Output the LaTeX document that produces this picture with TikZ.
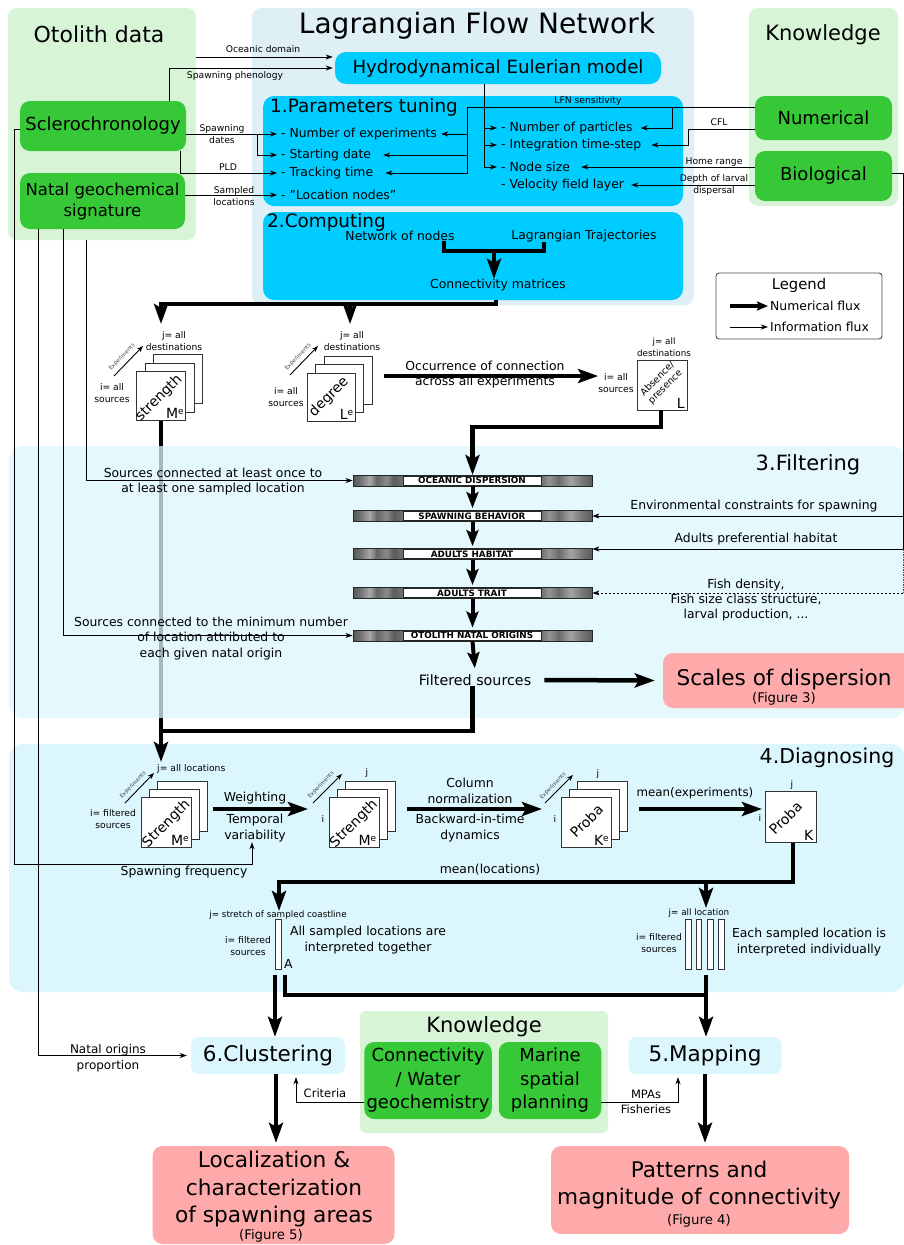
\documentclass[tikz,border=0pt]{standalone}
\usepackage{fontspec}
\setmainfont{DejaVu Sans}
\usetikzlibrary{arrows.meta}
\definecolor{pgreen}{RGB}{215,244,215}
\definecolor{plfn}{RGB}{222,240,246}
\definecolor{cyanb}{RGB}{0,204,255}
\definecolor{greenb}{RGB}{55,200,55}
\definecolor{lcyan}{RGB}{220,246,254}
\definecolor{pinkb}{RGB}{255,170,170}
\newcommand\fsz[2]{\fontsize{#1pt}{#2pt}\selectfont}
\newcommand\supe[1]{#1\raisebox{0.55ex}{\fsz{9}{9}e}}
\pgfdeclarehorizontalshading{fbnoise}{100bp}{color(0bp)=(black!62); color(25bp)=(black!66); color(26.5bp)=(black!56); color(28.5bp)=(black!34); color(30bp)=(black!60); color(32bp)=(black!46); color(33.5bp)=(black!64); color(35.5bp)=(black!55); color(50bp)=(black!50); color(64bp)=(black!60); color(66bp)=(black!42); color(68bp)=(black!58); color(70.5bp)=(black!36); color(73bp)=(black!54); color(75bp)=(black!64); color(100bp)=(black!62)}
\newcommand\mstack[5]{%
  \node[msq,minimum size=#5] (#1c) at (#2+2*#4,#3-2*#4) {};
  \node[msq,minimum size=#5] (#1b) at (#2+#4,#3-#4) {};
  \node[msq,minimum size=#5] (#1) at (#2,#3) {};}
\begin{document}
\begin{tikzpicture}[x=1pt,y=-1pt,
  every node/.style={inner sep=0pt, font=\fsz{12.4}{15}},
  panel/.style={rectangle, rounded corners=9pt},
  cbox/.style={rectangle, rounded corners=11pt, fill=cyanb},
  gbox/.style={rectangle, rounded corners=10pt, fill=greenb, align=center, font=\fsz{18}{21}},
  lbox/.style={rectangle, rounded corners=8pt, fill=lcyan, font=\fsz{21.5}{25}},
  pbox/.style={rectangle, rounded corners=10pt, fill=pinkb},
  figl/.style={font=\fsz{13.3}{15}},
  item/.style={anchor=west, inner xsep=4pt, inner ysep=1pt, font=\fsz{12.4}{15}},
  txt/.style={align=center, font=\fsz{12.4}{15.3}},
  sm/.style={align=center, font=\fsz{9.2}{12}},
  tiny/.style={font=\fsz{5.5}{6}, text=black!75},
  msq/.style={rectangle, draw=black!80, line width=0.9pt, fill=white},
  rot/.style={rotate=45, font=\fsz{14}{16}},
  corner/.style={anchor=south east, font=\fsz{14}{16}},
  fbar/.style={rectangle, draw=black!85, line width=0.8pt, shade, shading=fbnoise, minimum width=239, minimum height=11},
  fbl/.style={rectangle, draw=black!85, line width=0.7pt, fill=white, minimum width=138, minimum height=9, font=\bfseries\fsz{8.8}{9}},
  ln/.style={line width=0.9pt},
  info/.style={line width=0.9pt, -{Stealth[length=7pt,width=5pt,inset=2pt]}},
  numl/.style={line width=4.5pt},
  numa/.style={line width=4.5pt, -{Stealth[length=20pt,width=14pt,inset=4pt]}},
  fba/.style={line width=4pt, shorten >=2pt, -{Stealth[length=16pt,width=12pt,inset=3pt]}},
  expa/.style={line width=0.9pt, -{Stealth[length=6pt,width=4.5pt,inset=1.5pt]}},
]
\useasboundingbox (0,0) rectangle (904,1245);
\fill[white] (0,0) rectangle (904,1245);

% ---------- panels
\node[panel, fill=pgreen, minimum width=188, minimum height=232] (otop) at (102,124) {};
\node[panel, fill=plfn, minimum width=442, minimum height=297] (lfnp) at (473,156.5) {};
\node[panel, fill=pgreen, minimum width=149, minimum height=198] (knp) at (823.5,107) {};
\node[panel, fill=lcyan, minimum width=896, minimum height=248, rounded corners=14pt] (diagp) at (457,868) {};
\node[panel, fill=pgreen, minimum width=248, minimum height=122, rounded corners=6pt] (knp2) at (484,1072) {};

% ---------- titles
\node[font=\fsz{22}{26}, anchor=base] (otot) at (99,42.7) {Otolith data};
\node[font=\fsz{28}{32}, anchor=base] (lfnt) at (477,33) {Lagrangian Flow Network};
\node[font=\fsz{21}{25}, anchor=base] (knt) at (823,40) {Knowledge};

% ---------- LFN boxes
\node[cbox, minimum width=326, minimum height=32, font=\fsz{18.2}{21}] (hydro) at (498,68) {Hydrodynamical Eulerian model};
\node[cbox, minimum width=420, minimum height=110] (ptb) at (473,151) {};
\node[font=\fsz{18.4}{22}, anchor=base west] (ptt) at (270,112) {1.Parameters tuning};
\node[cbox, minimum width=420, minimum height=88] (cmb) at (473,256) {};
\node[font=\fsz{18.4}{22}, anchor=base west] (cmt) at (267,227) {2.Computing};

\node[item] (pe1) at (277,134) {- Number of experiments};
\node[item] (pe2) at (277,155) {- Starting date};
\node[item] (pe3) at (277,173) {- Tracking time};
\node[item] (pe4) at (277,195) {- "Location nodes"};
\node[item] (pr1) at (497,128) {- Number of particles};
\node[item] (pr2) at (497,145) {- Integration time-step};
\node[item] (pr3) at (497,167) {- Node size};
\node[item] (pr4) at (497,185) {- Velocity field layer};

\node[txt] (non) at (400,236) {Network of nodes};
\node[txt] (lt) at (584,236) {Lagrangian Trajectories};
\node[txt] (cm) at (498,285) {Connectivity matrices};
\draw[numl] (non.south -| 444,0) -- (444,251) -- (544,251) -- (lt.south -| 544,0);
\draw[numa] (494,251) -- (cm.north -| 494,0);

% ---------- data / knowledge boxes
\node[gbox, minimum width=166, minimum height=50] (scl) at (103,126) {Sclerochronology};
\node[gbox, minimum width=165, minimum height=56, font=\fsz{16.5}{21}] (natal) at (102.5,201) {Natal geochemical\\signature};
\node[gbox, minimum width=137, minimum height=44] (num) at (823.5,118) {\raisebox{-2pt}{Numerical}};
\node[gbox, minimum width=137, minimum height=50] (bio) at (823.5,176) {Biological};

% ---------- small labels (top)
\node[sm] at (263,49) {Oceanic domain};
\node[sm] at (235,76) {Spawning phenology};
\node[sm] at (222,134) {Spawning\\dates};
\node[sm] at (228,167) {PLD};
\node[sm] at (234,196) {Sampled\\locations};
\node[sm] at (588,101) {LFN sensitivity};
\node[sm] at (719,122) {CFL};
\node[sm] at (714,162) {Home range};
\node[sm] at (714,185) {Depth of larval\\dispersal};

% ---------- thin connectors (top)
\draw[info] (otop.east |- 0,57) -- ([xshift=-2pt]hydro.west |- 0,57);
\draw[info] (scl.north -| 169,0) |- ([xshift=-2pt]hydro.west);
\draw[info] (scl.east |- pe1) -- (pe1.west);
\draw[info] (257,134) |- (pe2.west);
\draw[info] (scl.south -| 180,0) |- (pe3.west);
\draw[info] (natal.east |- pe4) -- (pe4.west);
\draw[info] (num.west |- 0,107) -- (467,107) |- ([xshift=8pt]pe3.east);
\draw[info] (467,134) -- (pe1.east);
\draw[info] (467,155) -- ([xshift=8pt]pe2.east);
\draw[info] (672,107) |- ([xshift=4pt]pr1.east);
\draw[info] (num.west |- 0,129) -- (688,129) |- ([xshift=6pt]pr2.east);
\draw[info] (hydro.south -| 484,0) |- (pr3.west);
\draw[info] (484,128) -- (pr1.west);
\draw[info] (484,145) -- (pr2.west);
\draw[info] (bio.west |- pr3) -- ([xshift=7pt]pr3.east);
\draw[info] (bio.west |- pr4) -- ([xshift=3pt]pr4.east);

% ---------- legend
\node[rectangle, draw=black!70, rounded corners=3pt, fill=white, line width=0.9pt, minimum width=166, minimum height=66] (leg) at (799,306) {};
\node[font=\fsz{14.8}{17}] (legt) at (799,285) {Legend};
\node[anchor=west, inner xsep=2pt] (lnum) at (768,306) {Numerical flux};
\node[anchor=west, inner xsep=2pt] (linf) at (768,327) {Information flux};
\draw[line width=3.5pt, -{Stealth[length=11pt,width=9pt,inset=2pt]}] (730,306) -- (lnum.west);
\draw[info] (730,327) -- (linf.west);

% ---------- matrices row
\draw[numa] (cmb.south -| 496,0) |- (161,304) -- (161,324);
\draw[numa] (350,304) -- (350,324);

\mstack{sA}{161}{396}{8.5}{49}
\node[rot] at ([shift={(-2,2)}]sA.center) {strength};
\node[corner] at ([shift={(-2,-2)}]sA.south east) {\supe{M}};
\node[sm] at (174,341) {j= all\\destinations};
\node[sm] at (112,393) {i= all\\sources};
\draw[expa] (114,376) -- (143,346);
\node[tiny, rotate=46] at (122,357) {Experiments};

\mstack{dB}{331}{397}{8.5}{48}
\node[rot] at ([shift={(-2,0)}]dB.center) {degree};
\node[corner] at ([shift={(-2,-2)}]dB.south east) {\supe{L}};
\node[sm] at (352,341) {j= all\\destinations};
\node[sm] at (286,397) {i= all\\sources};
\draw[expa] (290,375) -- (318,346);
\node[tiny, rotate=46] at (298,357) {Experiments};

\node[txt] at (485,374.5) {Occurrence of connection\\across all experiments};
\node[msq, minimum size=50] (Lsq) at (662.5,385) {};
\node[rotate=45, align=center, font=\fsz{9.5}{11}] at ([shift={(-1,-2)}]Lsq.center) {Absence/\\presence};
\node[corner] at ([shift={(-3,-2)}]Lsq.south east) {L};
\node[align=center, font=\fsz{8.8}{11.5}] at (664,347) {j= all\\destinations};
\node[sm] (iL) at (616,383) {i= all\\sources};
\draw[numa] (384,376) -- (iL.west |- 0,376);

% strength line seen through the filtering panel
\draw[numl] (sA.south) -- (sA.south |- 0,731);

% ---------- filtering
\node[panel, fill=lcyan, fill opacity=0.75, minimum width=896, minimum height=272, rounded corners=14pt] (filp) at (457,582) {};
\node[font=\fsz{21}{25}] (filt) at (808,464.5) {3.Filtering};

\draw[numa] (Lsq.south -| 661,0) |- (472.5,427) -- (472.5,475);

\node[fbar] (fb1) at (472.5,480.5) {}; \node[fbl] (fl1) at (472,480.5) {OCEANIC DISPERSION};
\node[fbar] (fb2) at (472.5,516) {};   \node[fbl] (fl2) at (472,516) {SPAWNING BEHAVIOR};
\node[fbar] (fb3) at (472.5,554) {};   \node[fbl] (fl3) at (472,554) {ADULTS HABITAT};
\node[fbar] (fb4) at (472.5,593) {};   \node[fbl] (fl4) at (472,593) {ADULTS TRAIT};
\node[fbar] (fb5) at (472.5,635.5) {}; \node[fbl] (fl5) at (472,635.5) {OTOLITH NATAL ORIGINS};
\draw[fba] (fb1.south) -- (fb2.north);
\draw[fba] (fb2.south) -- (fb3.north);
\draw[fba] (fb3.south) -- (fb4.north);
\draw[fba] (fb4.south) -- (fb5.north);

\node[font=\fsz{14.3}{17}] (fs) at (475,680) {Filtered sources};
\draw[fba] (fb5.south) -- ([yshift=4pt]fs.north);

\node[txt] at (213,481.5) {Sources connected at least once to\\at least one sampled location};
\node[txt] at (211,638.5) {Sources connected to the minimum number\\of location attributed to\\each given natal origin};
\draw[info] (otop.south -| 86,0) |- (fb1.west);
\draw[info] (natal.south -| 63,0) |- (fb5.west);

\node[txt] at (754,506) {Environmental constraints for spawning};
\node[txt] at (756,539) {Adults preferential habitat};
\node[txt, font=\fsz{12.4}{15}] at (746,600) {Fish density,\\Fish size class structure,\\larval production, ...};
\draw[ln] (bio.east |- 0,173) -| (903,549);
\draw[ln, black!70, dash pattern=on 1.5pt off 1pt] (903,549) -- (903,593);
\draw[info] (903,516) -- (fb2.east);
\draw[info] (903,549) -- (fb3.east |- 0,549);
\draw[info, dash pattern=on 2.5pt off 1.5pt] (903,593) -- (fb4.east);

\node[pbox, minimum width=250, minimum height=55] (scales) at (788,680.5) {};
\node[font=\fsz{21.6}{25}] at (784,680) {Scales of dispersion};
\node[figl] at (784,699) {(Figure 3)};
\draw[numa] ([xshift=13pt]fs.east) -- ([xshift=-8pt]scales.west);

\draw[numa] (fs.south -| 472.5,0) |- (161,731) -- (161,762);

% ---------- diagnosing
\node[font=\fsz{20.5}{24}] (diagt) at (827,758) {4.Diagnosing};

\mstack{sC}{166.5}{822.5}{8}{50}
\node[rot] at ([shift={(0,1.5)}]sC.center) {Strength};
\node[corner] at ([shift={(-3,-2)}]sC.south east) {\supe{M}};
\node[sm, anchor=west] at (157,769) {j= all locations};
\node[sm] at (113,819) {i= filtered\\sources};
\draw[expa] (125,803) -- (154,773);
\node[tiny, rotate=46] at (133,785) {Experiments};

\draw[numa] (213,809) -- (308,809);
\node[txt] at (255,798) {Weighting};
\node[txt, font=\fsz{12.4}{16}] (tv) at (255,828) {Temporal\\variability};

\mstack{sD}{354}{822.5}{8}{50}
\node[rot] at ([shift={(0,1.5)}]sD.center) {Strength};
\node[corner] at ([shift={(-3,-2)}]sD.south east) {\supe{M}};
\node[sm] at (367,773) {j};
\node[sm] at (323,819) {i};
\draw[expa] (313,803) -- (342,774);
\node[tiny, rotate=46] at (321,785) {Experiments};

\draw[numa] (407,809) -- (542,809);
\node[txt] at (470,791) {Column\\normalization};
\node[txt] at (470,828) {Backward-in-time\\dynamics};

\mstack{pE}{586.5}{822.5}{8}{50}
\node[rot] at ([shift={(0,-1.5)}]pE.center) {Proba};
\node[corner] at ([shift={(-3,-2)}]pE.south east) {\supe{K}};
\node[sm] at (598,774) {j};
\node[sm] at (555,819) {i};
\draw[expa] (545,803) -- (573,775);
\node[tiny, rotate=46] at (553,786) {Experiments};

\draw[numa] (639,809) -- (762,809);
\node[font=\fsz{11.8}{14}] at (695,793) {mean(experiments)};

\node[msq, minimum size=51] (Ksq) at (790.5,817) {};
\node[rot] at ([shift={(-5,1)}]Ksq.center) {Proba};
\node[corner] at ([shift={(-3,-2)}]Ksq.south east) {K};
\node[sm] at (792,785) {j};
\node[sm] at (760,818) {i};

\draw[numa] (Ksq.south -| 793,0) |- (279,882) -- (279,911);
\draw[numa] (706,882) -- (706,908);
\node[txt] at (490,870) {mean(locations)};

\node[msq, minimum width=6, minimum height=50, line width=0.8pt] (Abar) at (278,944) {};
\node[anchor=west] at (284,964) {A};
\node[font=\fsz{8.8}{11}] at (278,915) {j= stretch of sampled coastline};
\node[sm] at (248,946) {i= filtered\\sources};
\node[txt, font=\fsz{12.4}{16}] at (368,940) {All sampled locations are\\interpreted together};

\node[msq, minimum width=5.5, minimum height=50, line width=0.8pt] (b1) at (688.5,944) {};
\node[msq, minimum width=5.5, minimum height=50, line width=0.8pt] (b2) at (699,944) {};
\node[msq, minimum width=5.5, minimum height=50, line width=0.8pt] (b3) at (710.5,944) {};
\node[msq, minimum width=5.5, minimum height=50, line width=0.8pt] (b4) at (721.5,944) {};
\node[font=\fsz{8.8}{11}] at (699,913) {j= all location};
\node[sm] at (659,943) {i= filtered\\sources};
\node[txt, font=\fsz{12.4}{16}] at (809,942) {Each sampled location is\\interpreted individually};

% spawning frequency
\draw[info] (scl.west |- 0,129) -| (14,864) -| (tv.south -| 252,0);
\node[txt] at (184,872) {Spawning frequency};

% ---------- bottom
\node[font=\fsz{21}{25}] (knt2) at (484,1027) {Knowledge};
\node[gbox, minimum width=127.5, minimum height=77, font=\fsz{18}{23.5}] (conn) at (428,1080.5) {Connectivity\\/ Water\\geochemistry};
\node[gbox, minimum width=102.5, minimum height=77, font=\fsz{18}{23.5}] (msp) at (550,1080.5) {Marine\\spatial\\planning};
\node[lbox, minimum width=154, minimum height=37] (clus) at (268,1055.5) {6.Clustering};
\node[lbox, minimum width=153, minimum height=37] (map) at (705,1055.5) {5.Mapping};

\node[pbox, minimum width=242, minimum height=98] (loc) at (273.5,1195) {};
\node[font=\fsz{21.7}{27.3}, align=center] at (274,1189) {Localization \&\\characterization\\of spawning areas};
\node[figl] at (271,1236) {(Figure 5)};
\node[pbox, minimum width=298, minimum height=88] (pat) at (700,1190) {};
\node[font=\fsz{21.6}{27.5}, align=center] at (699,1185) {Patterns and\\magnitude of connectivity};
\node[figl] at (699,1221) {(Figure 4)};

\draw[numa] (275,975) -- (clus.north -| 275,0);
\draw[numl] (285,975) |- (706,995);
\draw[numa] (706,975) -- (map.north -| 706,0);
\draw[numa] (clus.south -| 276,0) -- ([yshift=3pt]loc.north -| 276,0);
\draw[numa] (map.south -| 705,0) -- ([yshift=3pt]pat.north -| 705,0);

\node[font=\fsz{12}{16}, align=center] at (108,1058) {Natal origins\\proportion};
\node[font=\fsz{11.5}{14}] at (325,1093) {Criteria};
\node[font=\fsz{11.5}{15}, align=center] at (646,1101.5) {MPAs\\Fisheries};
\draw[info] (natal.south -| 38,0) |- ([xshift=-4pt]clus.west);
\draw[info] (conn.west |- 0,1102) -| ([yshift=-3pt]clus.south -| 296,0);
\draw[info] (msp.east |- 0,1102) -| ([yshift=-3pt]map.south -| 678,0);
\end{tikzpicture}
\end{document}
